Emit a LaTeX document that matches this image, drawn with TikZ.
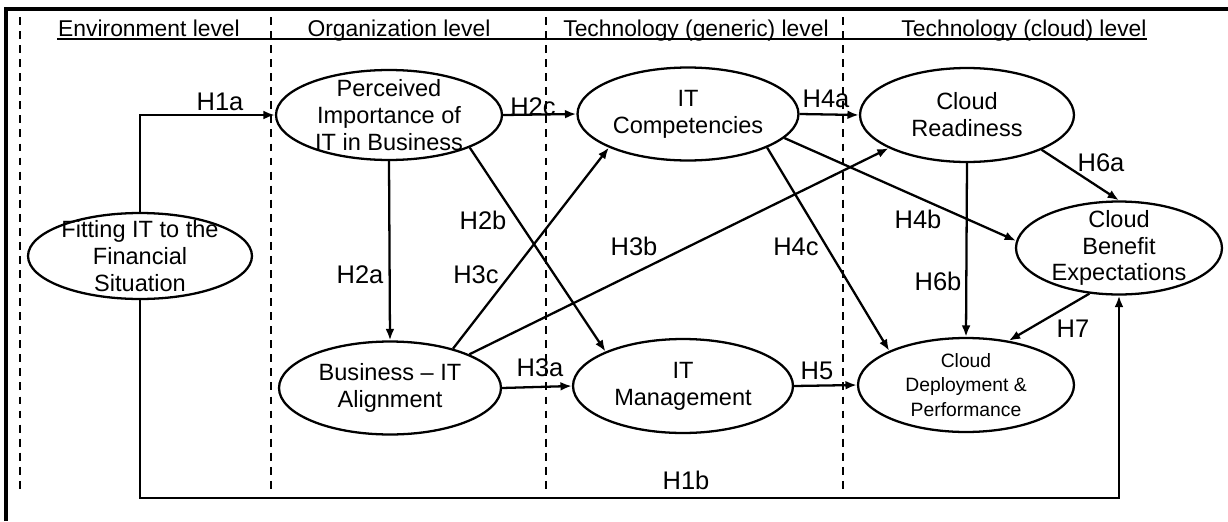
\documentclass[tikz,border=0pt]{standalone}
\usepackage{fontspec}
\setmainfont{Liberation Sans}
\usetikzlibrary{arrows.meta}
\usetikzlibrary{shapes.geometric}

\begin{document}
\begin{tikzpicture}[x=0.02cm,y=-0.02cm,
  construct/.style={draw,ellipse,line width=1.3pt,inner sep=0pt},
  constext/.style={align=center,font=\fontsize{13.4}{15.3}\selectfont},
  hyp/.style={font=\fontsize{14.5}{16}\selectfont},
  levelhead/.style={anchor=base,font=\fontsize{13}{15}\selectfont},
  link/.style={line width=1.3pt,-{Latex[length=6.5pt,width=5pt]}},
  divider/.style={line width=1.2pt,dash pattern=on 4.5pt off 3.5pt}]
\useasboundingbox (0,0) rectangle (1228,521);

% frame and levels
\draw [line width=1.9pt] (6,521) -- (6,9) -- (1228,9);
\foreach \xd in {20,271,546,843}
  \draw [divider] (\xd,17) -- (\xd,490);
\draw [line width=1pt] (57,39) -- (1147,39);
\node [levelhead] (envlevel) at (149,36) {Environment level};
\node [levelhead] (orglevel) at (399,36) {Organization level};
\node [levelhead] (genlevel) at (696,36) {Technology (generic) level};
\node [levelhead] (cloudlevel) at (1024,36) {Technology (cloud) level};

% constructs
\node [construct, minimum width=4.48cm, minimum height=1.72cm] (F) at (140,256) {};
\node [constext] at (F) {Fitting IT to the\\Financial\\Situation};
\node [construct, minimum width=4.52cm, minimum height=1.80cm] (P) at (389,115) {};
\node [constext] at (P) {Perceived\\Importance of\\IT in Business};
\node [construct, minimum width=4.44cm, minimum height=1.86cm] (B) at (390,388) {};
\node [constext] at (B) {Business -- IT\\Alignment};
\node [construct, minimum width=4.42cm, minimum height=1.86cm] (C) at (688,114) {};
\node [constext] at (C) {IT\\Competencies};
\node [construct, minimum width=4.40cm, minimum height=1.88cm] (M) at (683,386) {};
\node [constext] at (M) {IT\\Management};
\node [construct, minimum width=4.28cm, minimum height=1.88cm] (R) at (967,115) {};
\node [constext] at (R) {Cloud\\Readiness};
\node [construct, minimum width=4.12cm, minimum height=1.86cm] (E) at (1119,248) {};
\node [constext] at (E) {Cloud\\Benefit\\Expectations};
\node [construct, minimum width=4.32cm, minimum height=1.88cm] (D) at (966,385) {};
\node [constext, font=\fontsize{11}{14}\selectfont] at (D) {Cloud\\Deployment \&\\Performance};

% hypotheses
\coordinate (bottom) at (600,498);
\draw [link] (F.north) |- (P.west);
\draw [link] (F.south) |- (bottom) -| (E.south);
\draw [link] (P.south) -- (B.north);
\draw [link] (P.-22) -- (M.156);
\draw [link] (P.east) -- (C.west);
\draw [link] (B.east) -- (M.west);
\draw [link] (B.23) -- (R.203);
\draw [link] (B.32) -- (C.203);
\draw [link] (C.east) -- (R.west);
\draw [link] (C.-14) -- (E.176);
\draw [link] (C.-23) -- (D.156);
\draw [link] (M.east) -- (D.west);
\draw [link] (R.-25) -- (E.north);
\draw [link] (R.south) -- (D.north);
\draw [link] (E.-123) -- (D.46);

\node [hyp] (h1a) at (220,102) {H1a};
\node [hyp] (h1b) at (686,480) {H1b};
\node [hyp] (h2a) at (360,275) {H2a};
\node [hyp] (h2b) at (483,220) {H2b};
\node [hyp] (h2c) at (533,107) {H2c};
\node [hyp] (h3a) at (540,368) {H3a};
\node [hyp] (h3b) at (634,246) {H3b};
\node [hyp] (h3c) at (476,275) {H3c};
\node [hyp] (h4a) at (826,99) {H4a};
\node [hyp] (h4b) at (918,219) {H4b};
\node [hyp] (h4c) at (796,247) {H4c};
\node [hyp] (h5) at (817,371) {H5};
\node [hyp] (h6a) at (1101,163) {H6a};
\node [hyp] (h6b) at (938,281) {H6b};
\node [hyp] (h7) at (1073,329) {H7};

\end{tikzpicture}
\end{document}
